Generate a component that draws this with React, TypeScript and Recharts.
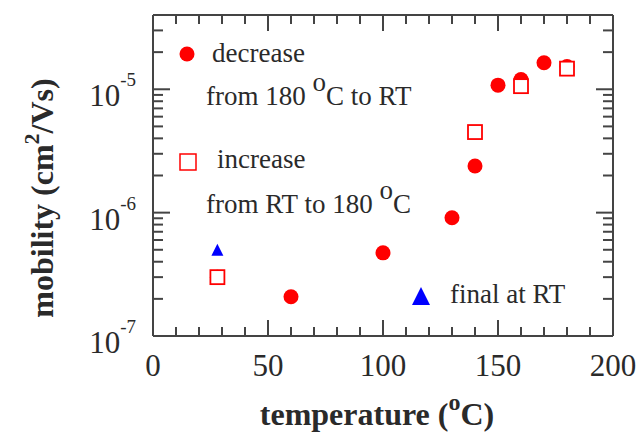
import { ScatterChart, Scatter, XAxis, YAxis, ReferenceLine } from 'recharts';

// mobility measured while cooling from 180 °C, then heating back, then final RT point
const decreaseTemp = [180, 170, 160, 150, 140, 130, 100, 60, 28];
const decreaseMobility = [1.53e-5, 1.64e-5, 1.2e-5, 1.08e-5, 2.39e-6, 9.1e-7, 4.72e-7, 2.08e-7, 3.0e-7];

const increaseTemp = [28, 140, 160, 180];
const increaseMobility = [3.0e-7, 4.5e-6, 1.06e-5, 1.47e-5];

const finalTemp = [28];
const finalMobility = [4.9e-7];

const X_TICKS = [0, 10, 20, 30, 40, 50, 60, 70, 80, 90, 100, 110, 120, 130, 140, 150, 160, 170, 180, 190, 200];
const Y_TICKS = [
  1e-7, 2e-7, 3e-7, 4e-7, 5e-7, 6e-7, 7e-7, 8e-7, 9e-7,
  1e-6, 2e-6, 3e-6, 4e-6, 5e-6, 6e-6, 7e-6, 8e-6, 9e-6,
  1e-5, 2e-5, 3e-5, 4e-5,
];

const X_MIN = 0;
const X_MAX = 200;
const Y_MIN = 1e-7;
const Y_MAX = 4e-5;

const AXIS = '#444';
const TEXT = '#2a2a2a';
const RED = '#ff0000';
const BLUE = '#0000ff';
const FONT = '"Liberation Serif", "Times New Roman", serif';
const TS = 8; // recharts tickSize, only used to place the labels

// plot is 460 x 321 px: convert tick lengths (px) into data units
const PX_PER_DECADE = 321 / Math.log10(Y_MAX / Y_MIN);
const PX_PER_DEG = 460 / (X_MAX - X_MIN);

const toPoints = (xs: number[], ys: number[]) => xs.map((x, i) => ({ x, y: ys[i] }));

const isMajorX = (v: number) => v % 50 === 0;
const isDecade = (v: number) => Math.abs(Math.log10(v) - Math.round(Math.log10(v))) < 1e-6;
const xLen = (v: number) => (isMajorX(v) ? 16 : 9);
const yLen = (v: number) => (isDecade(v) ? 17 : 10);

const BottomLabel = (props: any) => {
  const v = props.payload.value;
  if (!isMajorX(v)) return <g />;
  return (
    <text x={props.x} y={Number(props.y) - TS + 40} textAnchor="middle" fontSize={31} fontFamily={FONT} fill={TEXT}>
      {v}
    </text>
  );
};

const LeftLabel = (props: any) => {
  const v = props.payload.value;
  if (!isDecade(v)) return <g />;
  return (
    <text x={Number(props.x) + TS - 17} y={Number(props.y) + 17} textAnchor="end" fontFamily={FONT} fill={TEXT}>
      <tspan fontSize={31}>10</tspan>
      <tspan fontSize={19} dy={-20}>{Math.round(Math.log10(v))}</tspan>
    </text>
  );
};

const FilledDot = ({ cx, cy }: any) => <circle cx={cx} cy={cy} r={7.5} fill={RED} />;
const OpenSquare = ({ cx, cy }: any) => (
  <rect x={cx - 7} y={cy - 7} width={14} height={14} fill="#fff" stroke={RED} strokeWidth={1.8} />
);
const Triangle = ({ cx, cy }: any) => (
  <polygon points={`${cx},${cy - 7} ${cx + 6},${cy + 5} ${cx - 6},${cy + 5}`} fill={BLUE} />
);

// in-plot legend and axis titles, painted underneath the chart svg
const Overlay = () => (
  <svg width={640} height={432} style={{ position: 'absolute', left: 0, top: 0, zIndex: 0 }}>
    <g fontFamily={FONT} fill={TEXT} fontSize={27}>
      <circle cx={187} cy={54} r={7.5} fill={RED} />
      <text x={212} y={62}>decrease</text>
      <text x={206} y={105}>
        from 180 <tspan dy={-14}>o</tspan>
        <tspan dy={14}>C to RT</tspan>
      </text>

      <rect x={180} y={154} width={16} height={16} fill="#fff" stroke={RED} strokeWidth={1.5} />
      <text x={217} y={168}>increase</text>
      <text x={206} y={213}>
        from RT to 180 <tspan dy={-14}>o</tspan>
        <tspan dy={14}>C</tspan>
      </text>

      <polygon points="421,287 430,305 412,305" fill={BLUE} />
      <text x={450} y={303}>final at RT</text>
    </g>

    <g fontFamily={FONT} fill={TEXT} fontWeight="bold" fontSize={32}>
      <text x={377} y={425} textAnchor="middle">
        temperature (<tspan fontSize={24} dy={-15}>o</tspan>
        <tspan dy={15}>C)</tspan>
      </text>
      <text transform="translate(53,198) rotate(-90)" textAnchor="middle">
        mobility (cm<tspan fontSize={22} dy={-14}>2</tspan>
        <tspan dy={14}>/Vs)</tspan>
      </text>
    </g>
  </svg>
);

const axisLine = { stroke: AXIS, strokeWidth: 2 };

const tickProps = {
  xAxisId: 'b',
  yAxisId: 'l',
  stroke: AXIS,
  strokeWidth: 2,
  ifOverflow: 'visible' as const,
};

const App = () => {
  const decreaseData = toPoints(decreaseTemp, decreaseMobility);
  const increaseData = toPoints(increaseTemp, increaseMobility);
  const finalData = toPoints(finalTemp, finalMobility);

  return (
    <div style={{ position: 'absolute', left: 0, top: 0, width: 640, height: 432, background: '#fff' }}>
      <Overlay />
      <div style={{ position: 'absolute', left: 0, top: 0, zIndex: 1 }}>
        <ScatterChart width={640} height={432} margin={{ top: 14, right: 26, bottom: 0, left: 0 }}>
          <XAxis
            xAxisId="b"
            type="number"
            dataKey="x"
            domain={[X_MIN, X_MAX]}
            allowDataOverflow
            ticks={X_TICKS}
            interval={0}
            tickSize={TS}
            tickMargin={0}
            tickLine={false}
            tick={BottomLabel}
            axisLine={axisLine}
            height={96}
          />
          <XAxis
            xAxisId="t"
            orientation="top"
            type="number"
            dataKey="x"
            domain={[X_MIN, X_MAX]}
            allowDataOverflow
            ticks={X_TICKS}
            interval={0}
            tickLine={false}
            tick={false}
            axisLine={axisLine}
            height={1}
          />
          <YAxis
            yAxisId="l"
            type="number"
            dataKey="y"
            scale="log"
            domain={[Y_MIN, Y_MAX]}
            allowDataOverflow
            ticks={Y_TICKS}
            interval={0}
            tickSize={TS}
            tickMargin={0}
            tickLine={false}
            tick={LeftLabel}
            axisLine={axisLine}
            width={153}
          />
          <YAxis
            yAxisId="r"
            orientation="right"
            type="number"
            dataKey="y"
            scale="log"
            domain={[Y_MIN, Y_MAX]}
            allowDataOverflow
            ticks={Y_TICKS}
            interval={0}
            tickLine={false}
            tick={false}
            axisLine={axisLine}
            width={1}
          />

          {/* inward tick marks on all four sides */}
          {X_TICKS.map((t) => (
            <ReferenceLine
              key={`xb-${t}`}
              {...tickProps}
              segment={[{ x: t, y: Y_MIN }, { x: t, y: Y_MIN * 10 ** (xLen(t) / PX_PER_DECADE) }]}
            />
          ))}
          {X_TICKS.map((t) => (
            <ReferenceLine
              key={`xt-${t}`}
              {...tickProps}
              segment={[{ x: t, y: Y_MAX }, { x: t, y: Y_MAX / 10 ** (xLen(t) / PX_PER_DECADE) }]}
            />
          ))}
          {Y_TICKS.map((v) => (
            <ReferenceLine
              key={`yl-${v}`}
              {...tickProps}
              segment={[{ x: X_MIN, y: v }, { x: X_MIN + yLen(v) / PX_PER_DEG, y: v }]}
            />
          ))}
          {Y_TICKS.map((v) => (
            <ReferenceLine
              key={`yr-${v}`}
              {...tickProps}
              segment={[{ x: X_MAX, y: v }, { x: X_MAX - yLen(v) / PX_PER_DEG, y: v }]}
            />
          ))}

          <Scatter xAxisId="b" yAxisId="l" data={decreaseData} shape={FilledDot} isAnimationActive={false} />
          <Scatter xAxisId="b" yAxisId="l" data={increaseData} shape={OpenSquare} isAnimationActive={false} />
          <Scatter xAxisId="b" yAxisId="l" data={finalData} shape={Triangle} isAnimationActive={false} />
        </ScatterChart>
      </div>
    </div>
  );
};

export default App;
